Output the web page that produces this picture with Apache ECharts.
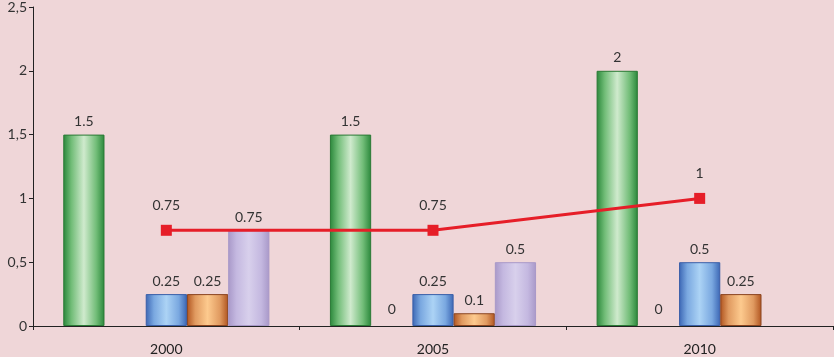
<!DOCTYPE html>
<html>
<head>
<meta charset="utf-8">
<script src="https://cdn.jsdelivr.net/npm/echarts@6/dist/echarts.min.js"></script>
<style>
html, body { margin: 0; padding: 0; background: #efd6d8; }
#chart { width: 834px; height: 357px; }
</style>
</head>
<body>
<div id="chart"></div>
<script>
// chart data
var years = ['2000', '2005', '2010'];
var greenVals = [1.5, 1.5, 2];
var zeroVals = [null, 0, 0];
var blueVals = [0.25, 0.25, 0.5];
var orangeVals = [0.25, 0.1, 0.25];
var purpleVals = [0.75, 0.5, null];
var lineVals = [0.75, 0.75, 1];

function grad(edge, mid, center)
{
    return new echarts.graphic.LinearGradient(0, 0, 1, 0, [
        {offset: 0, color: edge},
        {offset: 0.2, color: mid},
        {offset: 0.5, color: center},
        {offset: 0.8, color: mid},
        {offset: 1, color: edge}
    ]);
}

var labelStyle = {
    show: true,
    position: 'top',
    distance: 6,
    color: '#333',
    fontSize: 14,
    fontFamily: 'Lato'
};

function barSeries(name, data, color, border, bw)
{
    return {
        name: name,
        type: 'bar',
        data: data,
        barGap: '0%',
        barCategoryGap: '22.7%',
        itemStyle: {color: color, borderColor: border, borderWidth: bw},
        label: labelStyle
    };
}

var myChart = echarts.init(document.getElementById('chart'));

var option = {
    backgroundColor: '#efd6d8',
    animation: false,
    grid: {left: 33, right: 1, top: 5, bottom: 31},
    xAxis: {
        type: 'category',
        data: years,
        axisLine: {lineStyle: {color: '#222', width: 1}},
        axisTick: {show: true, length: 4, lineStyle: {color: '#222'}},
        axisLabel: {color: '#222', fontSize: 14, fontFamily: 'Lato', margin: 16}
    },
    yAxis: {
        type: 'value',
        min: 0,
        max: 2.5,
        interval: 0.5,
        splitLine: {show: false},
        axisLine: {show: true, lineStyle: {color: '#222', width: 1}},
        axisTick: {show: true, length: 4, lineStyle: {color: '#222'}},
        axisLabel: {
            color: '#333',
            fontSize: 14,
            fontFamily: 'Lato',
            margin: 6,
            formatter: function (v) { return String(v).replace('.', ','); }
        }
    },
    series: [
        barSeries('green', greenVals, grad('#2a873a', '#72bd78', '#cfeacd'), '#2a7a35', 1),
        Object.assign(barSeries('zero', zeroVals, 'rgba(0,0,0,0)', 'rgba(0,0,0,0)', 0),
            {label: Object.assign({}, labelStyle, {distance: 10})}),
        barSeries('blue', blueVals, grad('#3b66b4', '#7aa8e0', '#acd3f5'), '#3a5fa8', 1),
        barSeries('orange', orangeVals, grad('#b0541f', '#e09a60', '#fdca8e'), '#8a4420', 1),
        barSeries('purple', purpleVals, grad('#a898c8', '#c4b8e0', '#d8d0ec'), '#a898c8', 1),
        {
            name: 'line',
            type: 'line',
            data: lineVals,
            z: 5,
            symbol: 'rect',
            symbolSize: 11,
            lineStyle: {color: '#e61e28', width: 3},
            itemStyle: {color: '#e61e28'},
            label: Object.assign({}, labelStyle, {distance: 12})
        }
    ]
};

myChart.setOption(option);
</script>
</body>
</html>
